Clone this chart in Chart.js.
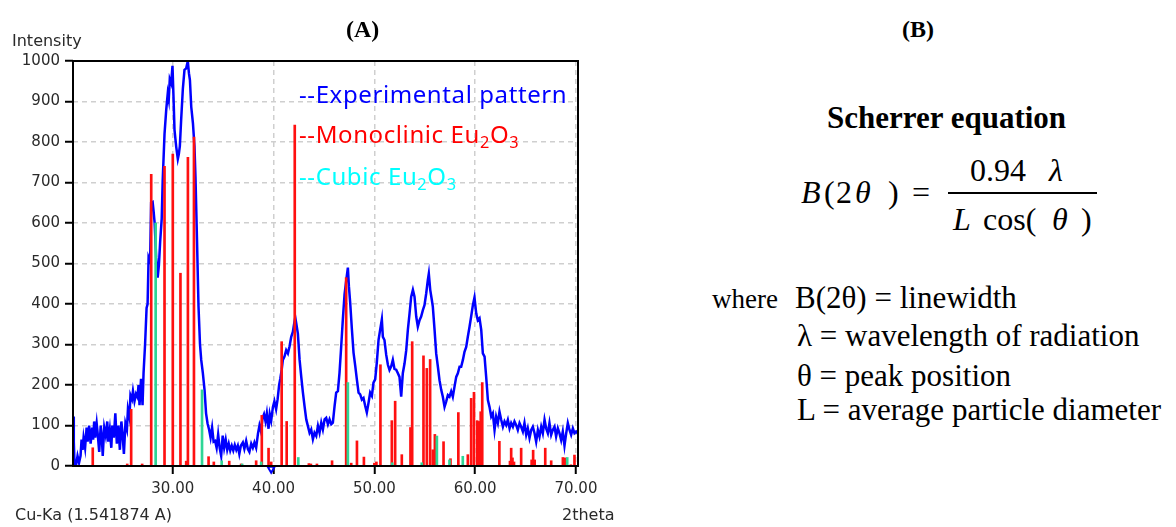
<!DOCTYPE html>
<html>
<head>
<meta charset="utf-8">
<title>XRD pattern of Eu2O3 and Scherrer equation</title>
<script src="https://cdn.jsdelivr.net/npm/chart.js@4.4.0/dist/chart.umd.min.js"></script>
<style>
  html, body { margin: 0; padding: 0; background: #fff; }
  body { position: relative; width: 1176px; height: 527px; overflow: hidden; }
  #chartBox { position: absolute; left: 0; top: 0; width: 640px; height: 527px; }
  .t { position: absolute; white-space: nowrap; line-height: 1; }
  .ax { font-family: 'DejaVu Sans', sans-serif; font-size: 16px; color: #2a2a2a; }
  .serif { font-family: 'Liberation Serif', 'Times New Roman', serif; color: #000; }
  .b { font-weight: bold; }
  .i { font-style: italic; }
  .lg { font-family: 'Noto Sans', sans-serif; font-size: 24px; letter-spacing: 0.6px; }
  .lg sub { font-size: 0.68em; vertical-align: -0.28em; line-height: 0; }
  #fracBar { position: absolute; left: 948px; top: 192px; width: 149px; height: 1.5px; background: #000; }
</style>
</head>
<body>
<div id="chartBox"><canvas id="xrd" width="640" height="527"></canvas></div>

<!-- axis captions -->
<div class="t ax" style="left:12px; top:33px;">Intensity</div>
<div class="t ax" style="left:15px; top:507px;">Cu-Ka (1.541874 A)</div>
<div class="t ax" style="left:562px; top:507px;">2theta</div>

<!-- legend inside the plot -->
<div class="t lg" style="left:299px; top:82px; color:#0000ff;">--Experimental pattern</div>
<div class="t lg" style="left:299px; top:122px; color:#ff0000;">--Monoclinic Eu<sub>2</sub>O<sub>3</sub></div>
<div class="t lg" style="left:299px; top:164px; color:#00ffff;">--Cubic Eu<sub>2</sub>O<sub>3</sub></div>

<!-- panel labels -->
<div class="t serif b" style="left:346px; top:17px; font-size:24px;">(A)</div>
<div class="t serif b" style="left:902px; top:17px; font-size:24px;">(B)</div>

<!-- panel B: Scherrer equation -->
<div class="t serif b" style="left:827px; top:102px; font-size:31px;">Scherrer equation</div>
<div class="t serif i" style="left:801px; top:176px; font-size:32px;">B</div>
<div class="t serif" style="left:824px; top:176px; font-size:32px;">(</div>
<div class="t serif" style="left:836px; top:176px; font-size:32px;">2</div>
<div class="t serif i" style="left:855px; top:176px; font-size:32px;">θ</div>
<div class="t serif" style="left:888px; top:176px; font-size:32px;">)</div>
<div class="t serif" style="left:912px; top:176px; font-size:32px;">=</div>
<div class="t serif" style="left:970px; top:154px; font-size:32px;">0.94</div>
<div class="t serif i" style="left:1049px; top:154px; font-size:32px;">λ</div>
<div id="fracBar"></div>
<div class="t serif i" style="left:953px; top:203px; font-size:32px;">L</div>
<div class="t serif" style="left:983px; top:203px; font-size:32px;">cos(</div>
<div class="t serif i" style="left:1052px; top:203px; font-size:32px;">θ</div>
<div class="t serif" style="left:1081px; top:203px; font-size:32px;">)</div>

<div class="t serif" style="left:712px; top:286px; font-size:27px;">where</div>
<div class="t serif" style="left:795px; top:282px; font-size:31px;">B(2θ) = linewidth</div>
<div class="t serif" style="left:797px; top:320px; font-size:31px;">λ = wavelength of radiation</div>
<div class="t serif" style="left:797px; top:360px; font-size:31px;">θ = peak position</div>
<div class="t serif" style="left:797px; top:394px; font-size:31px;">L = average particle diameter</div>

<script>
// Experimental diffraction pattern (2θ in degrees, intensity in counts)
const expTwoTheta = [
  20.15, 20.18, 20.25, 20.4, 20.55, 20.7, 20.85, 20.95, 21.05, 21.15, 21.3, 21.45, 21.55, 21.7, 21.85,
  22.0, 22.1, 22.2, 22.3, 22.45, 22.55, 22.7, 22.85, 22.95, 23.05, 23.2, 23.35, 23.5, 23.6, 23.75,
  23.9, 24.0, 24.15, 24.3, 24.45, 24.6, 24.75, 24.9, 25.0, 25.15, 25.3, 25.45, 25.55, 25.7, 25.8,
  25.95, 26.05, 26.2, 26.35, 26.5, 26.6, 26.7, 26.85, 27.0, 27.1, 27.25, 27.4, 27.5, 27.6, 27.75,
  27.85, 28.0, 28.1, 28.2, 28.35, 28.5, 28.62, 28.75, 28.9, 29.0, 29.18, 29.35, 29.5, 29.6, 29.7,
  29.84, 29.97, 30.07, 30.17, 30.34, 30.5, 30.6, 30.7, 30.83, 31.0, 31.16, 31.33, 31.49, 31.6, 31.7,
  31.83, 32.0, 32.15, 32.25, 32.4, 32.55, 32.7, 32.82, 32.98, 33.15, 33.3, 33.45, 33.6, 33.75, 33.9,
  34.05, 34.2, 34.35, 34.5, 34.65, 34.8, 34.95, 35.1, 35.25, 35.4, 35.55, 35.7, 35.85, 36.0, 36.15,
  36.3, 36.45, 36.6, 36.75, 36.95, 37.1, 37.28, 37.45, 37.6, 37.78, 37.94, 38.1, 38.27, 38.45, 38.6,
  38.75, 38.9, 39.05, 39.2, 39.33, 39.5, 39.62, 39.76, 39.93, 40.08, 40.25, 40.4, 40.55, 40.66, 40.8,
  40.92, 41.08, 41.25, 41.42, 41.58, 41.75, 41.91, 42.0, 42.15, 42.25, 42.41, 42.58, 42.74, 42.91, 43.07,
  43.24, 43.4, 43.57, 43.73, 43.9, 44.06, 44.23, 44.4, 44.56, 44.73, 44.89, 45.06, 45.22, 45.39, 45.55,
  45.72, 45.88, 46.05, 46.21, 46.38, 46.54, 46.71, 46.87, 47.04, 47.2, 47.37, 47.47, 47.6, 47.77, 47.93,
  48.1, 48.26, 48.43, 48.59, 48.76, 48.92, 49.09, 49.25, 49.42, 49.58, 49.75, 49.91, 50.08, 50.24, 50.41,
  50.57, 50.74, 50.84, 51.0, 51.17, 51.34, 51.5, 51.67, 51.83, 51.99, 52.16, 52.33, 52.49, 52.66, 52.82,
  52.99, 53.16, 53.32, 53.49, 53.65, 53.82, 53.98, 54.15, 54.31, 54.48, 54.64, 54.81, 54.97, 55.14, 55.3,
  55.4, 55.54, 55.7, 55.8, 55.97, 56.13, 56.3, 56.46, 56.63, 56.79, 56.96, 57.12, 57.29, 57.45, 57.62,
  57.78, 57.95, 58.12, 58.28, 58.45, 58.61, 58.78, 58.94, 59.11, 59.27, 59.44, 59.6, 59.77, 59.93, 60.1,
  60.26, 60.43, 60.6, 60.76, 60.93, 61.09, 61.26, 61.42, 61.59, 61.75, 61.92, 62.08, 62.25, 62.41, 62.58,
  62.75, 62.91, 63.08, 63.24, 63.41, 63.57, 63.74, 63.9, 64.07, 64.23, 64.4, 64.56, 64.73, 64.89, 65.06,
  65.22, 65.39, 65.56, 65.72, 65.89, 66.05, 66.22, 66.38, 66.55, 66.71, 66.88, 67.04, 67.21, 67.37, 67.54,
  67.7, 67.87, 68.03, 68.2, 68.36, 68.53, 68.69, 68.86, 69.03, 69.19, 69.36, 69.52, 69.69, 69.85, 70.02,
  70.2
];
const expIntensity = [
  122, 60, 5, 2, 25, 8, 25, 65, 40, 70, 45, 95, 60, 100, 55,
  95, 65, 110, 70, 105, 80, 35, 100, 75, 25, 95, 75, 110, 60, 90,
  45, 100, 70, 130, 55, 100, 40, 110, 85, 30, 105, 90, 140, 120, 175,
  165, 185, 160, 178, 170, 200, 150, 215, 150, 230, 300, 390, 400, 515, 505,
  650, 652, 628, 600, 515, 465, 495, 555, 610, 706, 820, 880, 920, 905, 955,
  945, 988, 912, 830, 788, 758, 770, 790, 855, 932, 978, 982, 1000, 970, 953,
  887, 846, 790, 714, 560, 395, 300, 262, 230, 188, 130, 105, 90, 70, 95,
  60, 62, 45, 78, 45, 25, 75, 45, 65, 40, 55, 38, 50, 38, 52,
  40, 50, 30, 50, 58, 42, 62, 42, 35, 55, 45, 58, 45, 80, 100,
  85, 118, 128, 110, 130, 92, 128, 112, 145, 160, 140, 165, 200, 215, 237,
  262, 270, 286, 278, 295, 319, 331, 345, 367, 352, 327, 262, 221, 181, 148,
  115, 99, 82, 90, 66, 82, 74, 99, 82, 107, 90, 115, 119, 103, 115,
  103, 107, 148, 181, 185, 230, 296, 362, 424, 457, 490, 444, 403, 337, 280,
  247, 214, 181, 177, 164, 168, 148, 132, 156, 181, 173, 206, 214, 255, 311,
  336, 362, 319, 311, 275, 250, 237, 246, 262, 240, 238, 229, 220, 171, 229,
  253, 286, 336, 377, 418, 435, 418, 369, 344, 360, 369, 385, 397, 426, 459,
  475, 435, 410, 393, 336, 278, 245, 212, 188, 171, 146, 159, 175, 171, 184,
  171, 196, 220, 229, 245, 245, 262, 282, 294, 319, 344, 369, 397, 416, 377,
  360, 365, 336, 278, 270, 220, 163, 146, 122, 130, 89, 122, 106, 134, 114,
  97, 110, 101, 114, 93, 106, 97, 110, 101, 89, 106, 97, 85, 106, 77,
  93, 69, 89, 97, 81, 60, 89, 73, 97, 81, 114, 93, 81, 106, 77,
  89, 97, 73, 93, 81, 64, 85, 50, 81, 106, 89, 77, 93, 81, 85,
  80
];

// Reference lines: monoclinic Eu2O3
const monoTwoTheta = [
  22.06, 25.48, 25.87, 26.96, 27.86, 29.18, 30.0, 30.76, 31.33, 31.5, 32.1, 33.55, 34.07, 35.6, 36.78,
  38.27, 38.83, 39.5, 39.76, 40.8, 41.3, 42.1, 43.5, 43.7, 44.3, 45.8, 47.2, 47.7, 48.27, 48.96,
  50.0, 50.2, 50.6, 51.73, 52.06, 52.72, 53.58, 53.75, 54.87, 55.2, 55.53, 55.8, 56.0, 56.86, 57.55,
  58.33, 59.27, 59.6, 59.88, 60.2, 60.4, 60.55, 60.7, 62.4, 63.45, 63.57, 63.7, 63.85, 64.56, 65.6,
  65.75, 65.9, 66.95, 67.54, 68.7, 68.93, 69.5, 69.85
];
const monoIntensity = [
  45, 5, 140, 5, 720, 740, 770, 476, 12, 762, 812, 23, 10, 12, 5,
  13, 125, 44, 10, 307, 110, 842, 6, 5, 5, 13, 465, 7, 62, 22,
  7, 10, 250, 112, 160, 28, 95, 307, 272, 241, 263, 40, 78, 60, 18,
  132, 28, 167, 182, 112, 110, 134, 206, 61, 12, 44, 20, 10, 44, 15,
  39, 15, 44, 13, 21, 20, 3, 27
];

// Reference lines: cubic Eu2O3
const cubicTwoTheta = [28.3, 32.9, 34.85, 36.88, 38.77, 42.45, 47.37, 51.77, 54.7, 56.2, 57.45, 58.77, 69.13];
const cubicIntensity = [600, 188, 13, 5, 10, 21, 206, 8, 8, 74, 15, 24, 21];

// Cursor markers under the 2θ axis
const cursorTwoTheta = [39.76];
const cursorLevel = [-7];
const endMarkTwoTheta = [69.82];
const endMarkLevel = [-32];

// Axis ticks
const xTickValues = [30, 40, 50, 60, 70];
const yTickValues = [0, 100, 200, 300, 400, 500, 600, 700, 800, 900, 1000];

const toPoints = (xs, ys) => xs.map((x, i) => ({ x: x, y: ys[i] }));

const tickFont = { family: 'DejaVu Sans', size: 15 };

// Black frame around the plotting area
const framePlugin = {
  id: 'frame',
  afterDraw(chart) {
    const { ctx, chartArea: a } = chart;
    ctx.save();
    ctx.strokeStyle = '#000';
    ctx.lineWidth = 2;
    ctx.strokeRect(a.left, a.top, a.right - a.left, a.bottom - a.top);
    ctx.restore();
  }
};

new Chart(document.getElementById('xrd'), {
  type: 'bar',
  data: {
    datasets: [
      {
        type: 'line',
        label: 'Experimental pattern',
        data: toPoints(expTwoTheta, expIntensity),
        borderColor: '#0000ff',
        borderWidth: 2.5,
        pointRadius: 0,
        tension: 0,
        order: 3
      },
      {
        type: 'bar',
        label: 'Monoclinic Eu2O3',
        data: toPoints(monoTwoTheta, monoIntensity),
        backgroundColor: '#ff1010',
        barThickness: 2,
        grouped: false,
        order: 2
      },
      {
        type: 'bar',
        label: 'Cubic Eu2O3',
        data: toPoints(cubicTwoTheta, cubicIntensity),
        backgroundColor: '#2ed696',
        barThickness: 2,
        grouped: false,
        order: 1
      },
      {
        type: 'scatter',
        label: 'cursor',
        data: toPoints(cursorTwoTheta, cursorLevel),
        pointStyle: 'triangle',
        rotation: 180,
        pointRadius: 4,
        borderColor: '#0000ff',
        backgroundColor: 'rgba(0,0,0,0)',
        borderWidth: 2,
        clip: false,
        order: 0
      },
      {
        type: 'scatter',
        label: 'range end',
        data: toPoints(endMarkTwoTheta, endMarkLevel),
        pointStyle: 'line',
        rotation: 90,
        pointRadius: 6,
        borderColor: '#ff8a70',
        borderWidth: 4,
        clip: false,
        order: 0
      }
    ]
  },
  options: {
    responsive: false,
    animation: false,
    events: [],
    layout: { padding: { top: 61, right: 62, left: 0, bottom: 0 } },
    plugins: { legend: { display: false }, tooltip: { enabled: false } },
    scales: {
      x: {
        type: 'linear',
        min: 20.1,
        max: 70.2,
        offset: false,
        afterBuildTicks(scale) { scale.ticks = xTickValues.map(v => ({ value: v })); },
        afterFit(scale) { scale.height = 61; },
        ticks: {
          autoSkip: false,
          maxRotation: 0,
          padding: 6,
          color: '#2a2a2a',
          font: tickFont,
          callback: v => Number(v).toFixed(2)
        },
        grid: {
          offset: false,
          color: '#cfcfcf',
          lineWidth: 1.5,
          tickColor: '#000',
          tickWidth: 2,
          tickLength: 8,
          tickBorderDash: []
        },
        border: { display: false, dash: [5, 4] }
      },
      y: {
        min: 0,
        max: 1000,
        afterBuildTicks(scale) { scale.ticks = yTickValues.map(v => ({ value: v })); },
        afterFit(scale) { scale.width = 73; },
        ticks: {
          padding: 5,
          color: '#2a2a2a',
          font: tickFont,
          callback: v => String(v)
        },
        grid: {
          color: '#cfcfcf',
          lineWidth: 1.5,
          tickColor: '#000',
          tickWidth: 2,
          tickLength: 8,
          tickBorderDash: []
        },
        border: { display: false, dash: [5, 4] }
      }
    }
  },
  plugins: [framePlugin]
});
</script>
</body>
</html>
